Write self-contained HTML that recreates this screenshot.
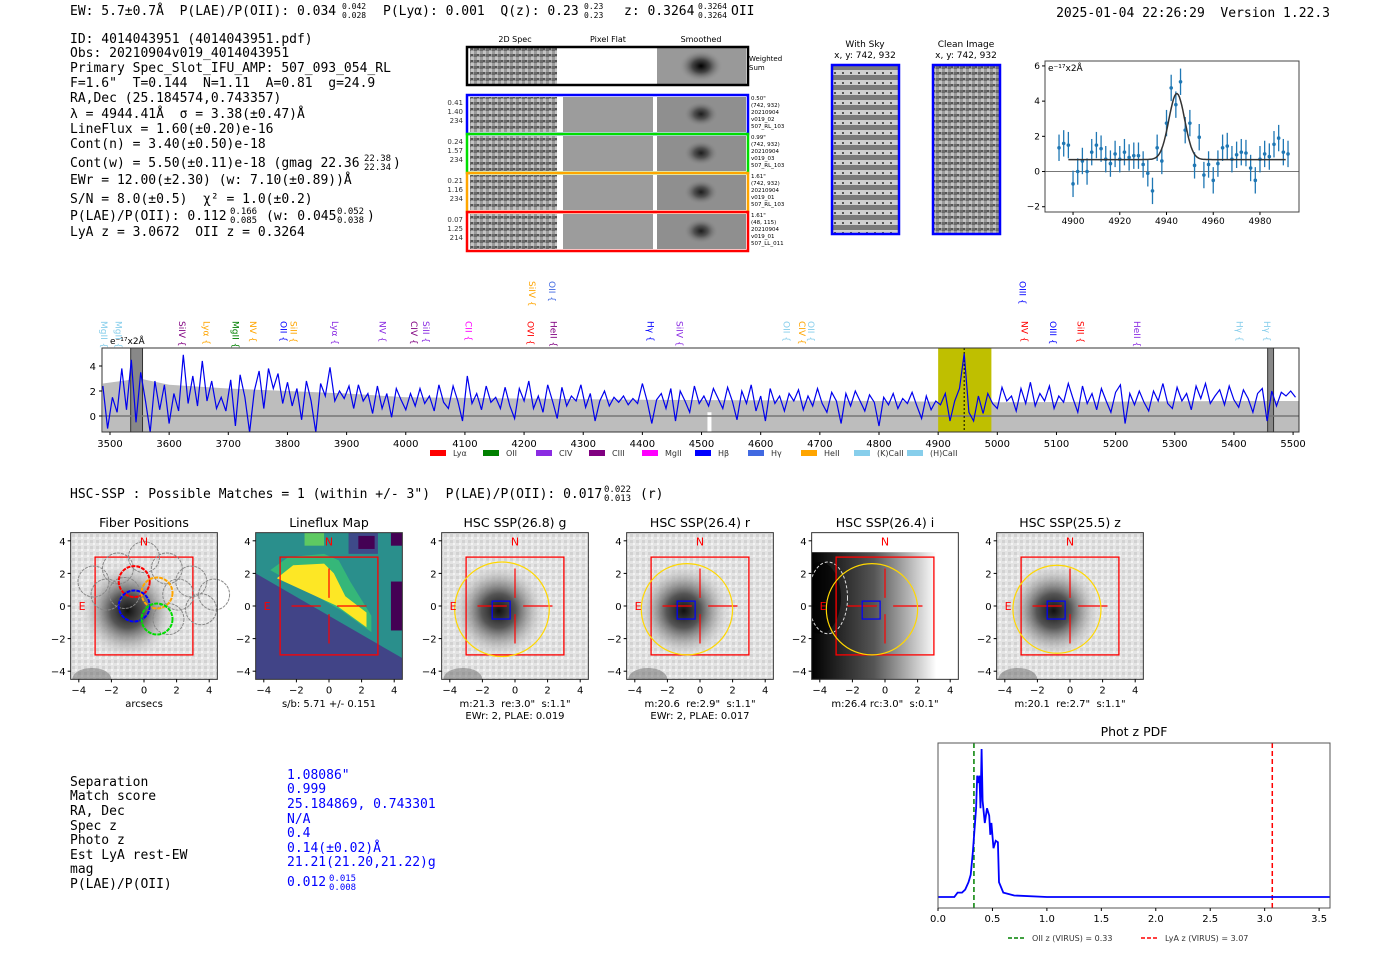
<!DOCTYPE html>
<html><head><meta charset="utf-8"><style>
html,body{margin:0;padding:0;background:#fff;}
svg{display:block;}
text{white-space:pre;}
.mono{font-family:"DejaVu Sans Mono","Liberation Mono",monospace;font-size:13px;fill:#000;}
.sans{font-family:"DejaVu Sans","Liberation Sans",sans-serif;}
</style></head><body>
<svg id="root" width="1400" height="953" viewBox="0 0 1400 953" xmlns="http://www.w3.org/2000/svg" xml:space="preserve">
<defs>
<radialGradient id="blob" cx="50%" cy="50%" r="50%"><stop offset="0" stop-color="#111"/><stop offset="0.35" stop-color="#555"/><stop offset="0.75" stop-color="#bbb" stop-opacity="0.6"/><stop offset="1" stop-color="#ddd" stop-opacity="0"/></radialGradient>
<radialGradient id="smooth" cx="50%" cy="50%" r="50%"><stop offset="0" stop-color="#000"/><stop offset="0.4" stop-color="#444"/><stop offset="1" stop-color="#999" stop-opacity="0"/></radialGradient>
<linearGradient id="igrad" x1="0" x2="1" y1="0" y2="0"><stop offset="0" stop-color="#000"/><stop offset="0.5" stop-color="#555"/><stop offset="1" stop-color="#fff"/></linearGradient>
<pattern id="noise" width="6" height="6" patternUnits="userSpaceOnUse"><rect width="6" height="6" fill="#9a9a9a"/><rect width="3" height="3" fill="#6a6a6a"/><rect x="3" y="3" width="3" height="3" fill="#c4c4c4"/><rect x="3" y="0" width="2" height="2" fill="#555"/></pattern>
<pattern id="stripes" width="8" height="10" patternUnits="userSpaceOnUse"><rect width="8" height="10" fill="#d0d0d0"/><rect y="5" width="8" height="5" fill="#7a7a7a"/><rect x="2" y="2" width="2" height="2" fill="#555"/></pattern>
<pattern id="lnoise" width="6" height="6" patternUnits="userSpaceOnUse"><rect width="6" height="6" fill="#e4e4e4"/><rect width="3" height="3" fill="#d2d2d2"/><rect x="3" y="3" width="2" height="2" fill="#f4f4f4"/></pattern>
</defs>

<!-- header -->
<text class="mono" x="70" y="15">EW: 5.7±0.7Å  P(LAE)/P(OII): 0.034</text>
<text class="mono" x="342" y="9" style="font-size:8px">0.042</text>
<text class="mono" x="342" y="18" style="font-size:8px">0.028</text>
<text class="mono" x="383" y="15">P(Lyα): 0.001  Q(z): 0.23</text>
<text class="mono" x="584" y="9" style="font-size:8px">0.23</text>
<text class="mono" x="584" y="18" style="font-size:8px">0.23</text>
<text class="mono" x="624" y="15">z: 0.3264</text>
<text class="mono" x="698" y="9" style="font-size:8px">0.3264</text>
<text class="mono" x="698" y="18" style="font-size:8px">0.3264</text>
<text class="mono" x="731" y="15">OII</text>
<text class="mono" x="1330" y="17" text-anchor="end">2025-01-04 22:26:29  Version 1.22.3</text>

<!-- info block -->
<g>
<text class="mono" x="70" y="43">ID: 4014043951 (4014043951.pdf)</text>
<text class="mono" x="70" y="57">Obs: 20210904v019_4014043951</text>
<text class="mono" x="70" y="72">Primary Spec_Slot_IFU_AMP: 507_093_054_RL</text>
<text class="mono" x="70" y="87">F=1.6"  T=0.144  N=1.11  A=0.81  g=24.9</text>
<text class="mono" x="70" y="102">RA,Dec (25.184574,0.743357)</text>
<text class="mono" x="70" y="118">λ = 4944.41Å  σ = 3.38(±0.47)Å</text>
<text class="mono" x="70" y="133">LineFlux = 1.60(±0.20)e-16</text>
<text class="mono" x="70" y="148">Cont(n) = 3.40(±0.50)e-18</text>
<text class="mono" x="70" y="167">Cont(w) = 5.50(±0.11)e-18 (gmag 22.36</text>
<text class="mono" x="364" y="161" style="font-size:9px">22.38</text><text class="mono" x="364" y="170" style="font-size:9px">22.34</text>
<text class="mono" x="393" y="167">)</text>
<text class="mono" x="70" y="184">EWr = 12.00(±2.30) (w: 7.10(±0.89))Å</text>
<text class="mono" x="70" y="203">S/N = 8.0(±0.5)  χ² = 1.0(±0.2)</text>
<text class="mono" x="70" y="220">P(LAE)/P(OII): 0.112</text>
<text class="mono" x="230" y="214" style="font-size:9px">0.166</text><text class="mono" x="230" y="223" style="font-size:9px">0.085</text>
<text class="mono" x="266" y="220">(w: 0.045</text>
<text class="mono" x="337" y="214" style="font-size:9px">0.052</text><text class="mono" x="337" y="223" style="font-size:9px">0.038</text>
<text class="mono" x="367" y="220">)</text>
<text class="mono" x="70" y="236">LyA z = 3.0672  OII z = 0.3264</text>
</g>

<!-- 2D spec cutouts -->
<g class="sans" font-size="7">
<text x="515" y="42" text-anchor="middle" font-size="8">2D Spec</text>
<text x="608" y="42" text-anchor="middle" font-size="8">Pixel Flat</text>
<text x="701" y="42" text-anchor="middle" font-size="8">Smoothed</text>
<rect x="470" y="48" width="87" height="36" fill="url(#noise)"/>
<rect x="657" y="48" width="89" height="36" fill="#999"/><ellipse cx="701" cy="66" rx="22" ry="16" fill="url(#smooth)"/>
<rect x="467" y="47" width="281" height="38" fill="none" stroke="#000" stroke-width="2.5"/>
<text x="749" y="61" font-size="7">Weighted</text><text x="749" y="70" font-size="7">Sum</text>
<g id="cutrows"></g>
</g>

<!-- sky images -->
<g>
<text class="sans" x="865" y="47" text-anchor="middle" font-size="9">With Sky</text>
<text class="sans" x="865" y="58" text-anchor="middle" font-size="9">x, y: 742, 932</text>
<rect x="832" y="65" width="67" height="169" fill="url(#stripes)" stroke="#00f" stroke-width="2.5"/>
</g>
<g>
<text class="sans" x="966" y="47" text-anchor="middle" font-size="9">Clean Image</text>
<text class="sans" x="966" y="58" text-anchor="middle" font-size="9">x, y: 742, 932</text>
<rect x="933" y="65" width="67" height="169" fill="url(#noise)" stroke="#00f" stroke-width="2.5"/>
</g>

<g id="zoomplot"></g>
<g id="spec"></g>

<text class="mono" x="70" y="498">HSC-SSP : Possible Matches = 1 (within +/- 3")  P(LAE)/P(OII): 0.017</text>
<text class="mono" x="604" y="492" style="font-size:9px">0.022</text>
<text class="mono" x="604" y="501" style="font-size:9px">0.013</text>
<text class="mono" x="640" y="498">(r)</text>

<g id="panels"></g>

<!-- match table -->
<g>
<g class="mono"><text x="70" y="786">Separation</text><text x="70" y="800">Match score</text><text x="70" y="815">RA, Dec</text><text x="70" y="830">Spec z</text><text x="70" y="844">Photo z</text><text x="70" y="859">Est LyA rest-EW</text><text x="70" y="873">mag</text><text x="70" y="888">P(LAE)/P(OII)</text></g>
<g class="mono"><text x="287" y="779" style="fill:#00f">1.08086"</text><text x="287" y="793" style="fill:#00f">0.999</text><text x="287" y="808" style="fill:#00f">25.184869, 0.743301</text><text x="287" y="823" style="fill:#00f">N/A</text><text x="287" y="837" style="fill:#00f">0.4</text><text x="287" y="852" style="fill:#00f">0.14(±0.02)Å</text><text x="287" y="866" style="fill:#00f">21.21(21.20,21.22)g</text><text x="287" y="886" style="fill:#00f">0.012</text><text x="329" y="881" style="fill:#00f;font-size:9px">0.015</text><text x="329" y="890" style="fill:#00f;font-size:9px">0.008</text></g>
</g>

<g id="pdf"></g>
</svg>
<script>
// ---------- data ----------
const specStart = 3488, specStep = 8;
const specFlux = [2.4,-1,1.5,0.3,3.8,0.5,4.5,-0.5,3.5,1.2,-1.3,2.8,0.5,
2.5,-0.6,1.8,0.4,4.9,1.0,3.2,0.8,4.4,1.2,2.8,0.6,1.5,0.4,
2.9,-0.8,3.3,1.5,-1.3,2.0,3.6,0.6,3.8,2.2,3.4,1.0,2.7,
0.8,2.2,-0.3,2.8,1.2,-1.3,2.6,1.6,3.9,1.2,2.0,1.4,2.4,
0.6,2.5,1.2,1.8,0.2,2.4,0.6,1.8,-0.1,2.2,1.3,0.5,1.8,
0.8,2.2,1.0,1.6,0.4,2.5,1.1,0.6,2.4,1.2,-0.4,3.2,1.0,
1.8,0.5,2.4,1.1,1.5,0.6,2.3,0.8,-0.2,2.2,1.2,2.8,0.6,
1.6,0.3,2.5,1.2,-0.2,2.3,0.8,1.6,1.2,2.5,0.7,1.8,-0.4,
1.2,2.0,0.8,1.5,1.1,1.6,0.9,1.4,1.0,2.6,1.2,-0.6,1.3,
1.8,0.6,2.2,-0.4,2.0,1.2,0.3,2.4,1.0,1.6,0.8,2.2,1.4,
0.6,2.3,1.2,-0.3,2.0,1.0,2.5,0.4,1.6,-0.4,2.2,1.0,1.6,
0.4,1.8,1.2,2.1,0.5,1.6,0.8,2.2,1.0,0.3,1.9,1.2,-0.6,
1.8,0.8,2.0,1.2,0.4,1.7,1.1,-0.8,1.5,0.9,1.8,0.6,1.4,
1.0,1.9,0.8,-0.2,1.6,0.5,1.2,0.9,1.8,-0.4,1.2,2.2,5.0,
0.3,-0.4,1.6,0.2,1.8,1.0,0.6,2.3,1.2,1.6,0.4,2.2,1.0,
2.7,0.8,1.8,1.2,2.4,0.6,1.6,1.1,2.6,1.4,0.3,2.4,1.0,
1.8,0.5,2.2,1.2,0.3,1.9,2.5,-0.6,1.8,0.9,2.0,1.1,0.4,
2.0,1.2,2.6,1.0,0.6,2.3,1.2,1.8,0.5,2.4,1.4,2.6,1.0,
1.6,2.1,0.9,2.4,1.3,0.7,2.1,1.4,0.3,1.8,2.2,-0.4,2.0,
0.8,1.9,1.6,2.0,1.5];
const errWave = [3488,3550,3600,3700,3800,3900,4000,4200,4400,4600,4800,5000,5200,5400,5510];
const errLevel = [2.6,3.0,2.5,2.2,2.0,1.8,1.5,1.4,1.3,1.25,1.2,1.1,1.15,1.2,1.2];
const specXTicks = [3500,3600,3700,3800,3900,4000,4100,4200,4300,4400,4500,4600,4700,4800,4900,5000,5100,5200,5300,5400,5500];
const specYTicks = [0,2,4];
const lineWave = [3490,3514,3622,3663,3712,3742,3793,3810,3880,3961,4014,4034,4106,4211,4250,4213,4247,4414,4463,4644,4670,4685,5043,5046,5094,5141,5236,5409,5456];
const lineName = ["MgII","MgII","SiIV","Lyα","MgII","NV","OII","SiII","Lyα","NV","CIV","SiII","CII","OVI","HeII","SiIV","OII","Hγ","SiIV","OII","CIV","OII","OIII","NV","OIII","SiII","HeII","Hγ","Hγ"];
const lineColor = ["#87ceeb","#87ceeb","#800080","#ffa500","#008000","#ffa500","#0000ff","#ffa500","#8a2be2","#8a2be2","#800080","#8a2be2","#ff00ff","#ff0000","#800080","#ffa500","#4169e1","#0000ff","#8a2be2","#87ceeb","#ffa500","#87ceeb","#0000ff","#ff0000","#0000ff","#ff0000","#8a2be2","#87ceeb","#87ceeb"];
const lineHigh = [0,0,0,0,0,0,0,0,0,0,0,0,0,0,0,1,1,0,0,0,0,0,1,0,0,0,0,0,0];
const legendNames = ["Lyα","OII","CIV","CIII","MgII","Hβ","Hγ","HeII","(K)CaII","(H)CaII"];
const legendColors = ["#ff0000","#008000","#8a2be2","#800080","#ff00ff","#0000ff","#4169e1","#ffa500","#87ceeb","#87ceeb"];

const fitWave = [4894,4896,4898,4900,4902,4904,4906,4908,4910,4912,4914,4916,4918,4920,4922,4924,4926,4928,4930,4932,4934,4936,4938,4940,4942,4944,4946,4948,4950,4952,4954,4956,4958,4960,4962,4964,4966,4968,4970,4972,4974,4976,4978,4980,4982,4984,4986,4988,4990,4992];
const fitFlux = [1.35,1.6,1.5,-0.7,0,0.6,0,1.1,1.5,1.3,0.7,0.45,1.0,0.7,1.1,0.8,0.9,0.9,0.4,-0.1,-1.1,1.35,0.6,2.75,4.75,3.8,5.1,2.35,2.75,0.35,1.95,-0.2,0.4,-0.5,0.45,1.35,1.45,0.7,0.95,1.1,1.05,0.2,-0.5,0.7,1.0,0.85,1.55,1.9,1.1,1.0];
const fitErr = 0.75;
const gaussCenter = 4944.4, gaussSigma = 3.38, gaussAmp = 3.75, gaussBase = 0.68;
const fitXTicks = [4900,4920,4940,4960,4980];
const fitYTicks = [-2,0,2,4,6];

const pdfZ = [0,0.15,0.18,0.22,0.25,0.28,0.3,0.32,0.34,0.35,0.36,0.37,0.38,0.39,0.4,0.41,0.43,0.45,0.47,0.48,0.49,0.51,0.53,0.55,0.56,0.6,0.7,1.0,3.6];
const pdfP = [0,0,0.03,0.03,0.05,0.1,0.15,0.3,0.5,0.6,0.82,0.77,0.82,0.6,1.0,0.65,0.5,0.6,0.55,0.42,0.5,0.33,0.38,0.37,0.1,0.03,0.01,0,0];
const pdfXTicks = [0,0.5,1.0,1.5,2.0,2.5,3.0,3.5];
const oiiZ = 0.33, lyaZ = 3.07;

const panelTitles = ["Fiber Positions","Lineflux Map","HSC SSP(26.8) g","HSC SSP(26.4) r","HSC SSP(26.4) i","HSC SSP(25.5) z"];
const panelCaps1 = ["arcsecs","s/b: 5.71 +/- 0.151","m:21.3  re:3.0\"  s:1.1\"","m:20.6  re:2.9\"  s:1.1\"","m:26.4 rc:3.0\"  s:0.1\"","m:20.1  re:2.7\"  s:1.1\""];
const panelCaps2 = ["","","EWr: 2, PLAE: 0.019","EWr: 2, PLAE: 0.017","",""];
const panelTicks = [-4,-2,0,2,4];
const ellipseR = [0,0,2.9,2.8,2.8,2.7];

const cutVals = [["0.41","1.40","234"],["0.24","1.57","234"],["0.21","1.16","234"],["0.07","1.25","214"]];
const cutColors = ["#0000ff","#00dd00","#ffa500","#ff0000"];
const cutNotes = [["0.50\"","(742, 932)","20210904","v019_02","507_RL_103"],["0.99\"","(742, 932)","20210904","v019_03","507_RL_103"],["1.61\"","(742, 932)","20210904","v019_01","507_RL_103"],["1.61\"","(48, 115)","20210904","v019_01","507_LL_011"]];

// ---------- helpers ----------
const NS = "http://www.w3.org/2000/svg";
function mk(tag, attrs, parent){const e=document.createElementNS(NS,tag);for(const k in attrs)e.setAttribute(k,attrs[k]);if(parent)parent.appendChild(e);return e;}
function txt(parent,x,y,s,size,anchor,fill){const t=mk('text',{x:x,y:y,'font-size':size,'text-anchor':anchor||'start',fill:fill||'#000','font-family':'DejaVu Sans, Liberation Sans, sans-serif'},parent);t.textContent=s;return t;}

// ---------- cutout rows ----------
(function(){
  const g=document.getElementById('cutrows');
  for(let i=0;i<4;i++){
    const y=95+i*39;
    mk('rect',{x:470,y:y+2,width:87,height:35,fill:'url(#noise)'},g);
    mk('rect',{x:563,y:y+2,width:90,height:35,fill:'#9c9c9c'},g);
    mk('rect',{x:657,y:y+2,width:89,height:35,fill:'#8f8f8f'},g);
    mk('ellipse',{cx:701,cy:y+19,rx:18,ry:13,fill:'url(#smooth)',opacity:0.8},g);
    const r=mk('rect',{x:467,y:y,width:281,height:39,fill:'none',stroke:cutColors[i],'stroke-width':2.5},g);
    
    
    cutVals[i].forEach((s,j)=>txt(g,463,y+10+j*9,s,7,'end','#333'));
    cutNotes[i].forEach((s,j)=>txt(g,751,y+5+j*7,s,5.5,'start','#000'));
  }
})();

// ---------- zoom line fit plot ----------
(function(){
  const g=document.getElementById('zoomplot');
  const L=1045,R=1299,T=61,B=212, x0=4888, x1=4996.7, y0=-2.3, y1=6.28;
  const X=v=>L+(v-x0)/(x1-x0)*(R-L), Y=v=>B-(v-y0)/(y1-y0)*(B-T);
  mk('line',{x1:L,x2:R,y1:Y(0),y2:Y(0),stroke:'#777','stroke-width':1},g);
  fitWave.forEach((w,i)=>{
    const e=mk('line',{x1:X(w),x2:X(w),y1:Y(fitFlux[i]-fitErr),y2:Y(fitFlux[i]+fitErr),stroke:'#1f77b4','stroke-width':1.3},g);
    
    
    const c=mk('circle',{cx:X(w),cy:Y(fitFlux[i]),r:1.8,fill:'#1f77b4'},g);
    
    
  });
  let d='';
  for(let w=4898;w<=4991;w+=0.5){const f=gaussBase+gaussAmp*Math.exp(-0.5*Math.pow((w-gaussCenter)/gaussSigma,2));d+=(d?'L':'M')+X(w).toFixed(1)+','+Y(f).toFixed(1);}
  const p=mk('path',{d:d,fill:'none',stroke:'#333','stroke-width':1.5},g);
  
  
  mk('rect',{x:L,y:T,width:R-L,height:B-T,fill:'none',stroke:'#444','stroke-width':1},g);
  fitXTicks.forEach(t=>{mk('line',{x1:X(t),x2:X(t),y1:B,y2:B+3,stroke:'#000'},g);txt(g,X(t),B+12,t,9,'middle');});
  fitYTicks.forEach(t=>{mk('line',{x1:L-3,x2:L,y1:Y(t),y2:Y(t),stroke:'#000'},g);txt(g,L-5,Y(t)+3,t<0?'−'+(-t):t,9,'end');});
  txt(g,L+3,T+10,'e⁻¹⁷x2Å',9,'start');
})();

// ---------- full spectrum ----------
(function(){
  const g=document.getElementById('spec');
  const L=102,R=1299,T=348,B=432, x0=3486.5, x1=5510, y0=-1.28, y1=5.44;
  const X=v=>L+(v-x0)/(x1-x0)*(R-L), Y=v=>B-(v-y0)/(y1-y0)*(B-T);
  let d='M'+X(errWave[0])+','+B;
  errWave.forEach((w,i)=>{d+='L'+X(w).toFixed(1)+','+Y(errLevel[i]).toFixed(1);});
  d+='L'+X(errWave[errWave.length-1])+','+B+'Z';
  const band=mk('path',{d:d,fill:'#bdbdbd'},g);
  
  
  mk('rect',{x:X(4510),y:Y(0.3),width:4,height:B-Y(0.3),fill:'#fff'},g);
  const hw=mk('rect',{x:X(4900),y:T,width:X(4990)-X(4900),height:B-T,fill:'#bfbf00'},g);
  
  
  mk('rect',{x:X(3535),y:T,width:X(3555)-X(3535),height:B-T,fill:'#888',stroke:'#333','stroke-width':1},g);
  mk('rect',{x:X(5457),y:T,width:X(5467)-X(5457),height:B-T,fill:'#888',stroke:'#333','stroke-width':1},g);
  mk('line',{x1:L,x2:R,y1:Y(0),y2:Y(0),stroke:'#777','stroke-width':1.5},g);
  mk('line',{x1:X(4944),x2:X(4944),y1:T,y2:B,stroke:'#000','stroke-dasharray':'2,2','stroke-width':1},g);
  let s='';
  specFlux.forEach((f,i)=>{const w=specStart+i*specStep;s+=(s?'L':'M')+X(w).toFixed(1)+','+Y(f).toFixed(1);});
  const ln=mk('path',{d:s,fill:'none',stroke:'#0000ee','stroke-width':1.2},g);
  
  
  mk('rect',{x:L,y:T,width:R-L,height:B-T,fill:'none',stroke:'#333','stroke-width':1},g);
  specXTicks.forEach(t=>{mk('line',{x1:X(t),x2:X(t),y1:B,y2:B+3,stroke:'#000'},g);txt(g,X(t),B+15,t,10,'middle');});
  specYTicks.forEach(t=>{mk('line',{x1:L-3,x2:L,y1:Y(t),y2:Y(t),stroke:'#000'},g);txt(g,L-6,Y(t)+4,t,10,'end');});
  txt(g,L+8,T-4,'e⁻¹⁷x2Å',9,'start');
  lineWave.forEach((w,i)=>{
    const x=X(w), y=lineHigh[i]?281:321;
    const t=mk('text',{x:0,y:0,transform:'translate('+(x-3).toFixed(1)+','+y+') rotate(90)','font-size':9,fill:lineColor[i],'font-family':'DejaVu Sans, Liberation Sans, sans-serif'},g);
    t.textContent=lineName[i]+' {';
    
    
  });
  legendNames.forEach((n,i)=>{
    const lx=430+i*53;
    const r=mk('rect',{x:lx,y:450,width:16,height:6,fill:legendColors[i]},g);
    
    
    txt(g,lx+23,456,n,8,'start','#333');
  });
})();

// ---------- imaging panels ----------
(function(){
  const root=document.getElementById('panels');
  const centers=[144,329,515,700,885,1070], U=16.3, cy=606;
  panelTitles.forEach((title,k)=>{
    const g=mk('g',{},root);
    
    
    const cx=centers[k];
    const X=v=>cx+v*U, Y=v=>cy-v*U;
    const L=X(-4.5),T=Y(4.5),W=9*U;
    const clip=mk('clipPath',{id:'c'+k},g); mk('rect',{x:L,y:T,width:W,height:W},clip);
    const inner=mk('g',{'clip-path':'url(#c'+k+')'},g);
    if(k===1){
      mk('rect',{x:L,y:T,width:W,height:W,fill:'#2a8f8c'},inner);
      mk('rect',{x:X(-1.5),y:Y(4.5),width:U*1.2,height:U*0.8,fill:'#5ec962'},inner);
      mk('rect',{x:X(1.2),y:Y(4.5),width:U*1.8,height:U*1.3,fill:'#3e4a89'},inner);
      mk('rect',{x:X(1.8),y:Y(4.3),width:U*1.0,height:U*0.8,fill:'#440154'},inner);
      mk('rect',{x:X(3.8),y:Y(4.5),width:U*0.7,height:U*0.8,fill:'#440154'},inner);
      mk('rect',{x:X(3.8),y:Y(1.5),width:U*0.7,height:U*3,fill:'#440154'},inner);
      mk('polygon',{points:[X(-3.6),Y(2.2),X(-2.5),Y(3.0),X(-0.3),Y(3.2),X(0.6),Y(2.8),X(1.3),Y(1.5),X(2.6),Y(-0.6),X(2.6),Y(-1.6),X(0.8),Y(-0.3)].join(','),fill:'#35b779'},inner);
      mk('polygon',{points:[X(-3.2),Y(1.7),X(-2.2),Y(2.5),X(-0.3),Y(2.6),X(0.3),Y(2.0),X(1.0),Y(0.6),X(2.3),Y(-0.4),X(2.3),Y(-1.3),X(0.5),Y(0)].join(','),fill:'#fde725'},inner);
      mk('polygon',{points:[X(-4.5),Y(2.0),X(4.5),Y(-3.2),X(4.5),Y(-4.5),X(-4.5),Y(-4.5)].join(','),fill:'#414487'},inner);
    } else if(k===4){
      mk('rect',{x:L,y:T,width:W,height:W,fill:'#fff'},inner);
      mk('rect',{x:L,y:Y(3.3),width:W*0.85,height:U*7.8,fill:'url(#igrad)'},inner);
      mk('ellipse',{cx:X(-4),cy:Y(0.5),rx:U*1.3,ry:U*2.2,fill:'#000',opacity:0.6},inner);
      mk('ellipse',{cx:X(-3.5),cy:Y(0.5),rx:U*1.2,ry:U*2.2,fill:'none',stroke:'#ddd','stroke-dasharray':'3,2'},inner);
    } else {
      mk('rect',{x:L,y:T,width:W,height:W,fill:'url(#lnoise)'},inner);
      mk('ellipse',{cx:X(-1),cy:Y(-0.3),rx:U*3,ry:U*3,fill:'url(#blob)'},inner);
      mk('ellipse',{cx:X(-3.2),cy:Y(-4.5),rx:U*1.2,ry:U*0.7,fill:'#666',opacity:0.5},inner);
    }
    mk('rect',{x:X(-3),y:Y(3),width:6*U,height:6*U,fill:'none',stroke:'#ff0000','stroke-width':1.3},g);
    if(k>0){
      [[X(0),Y(2.3),X(0),Y(0.5)],[X(0),Y(-0.5),X(0),Y(-2.3)],[X(-2.3),Y(0),X(-0.5),Y(0)],[X(0.5),Y(0),X(2.3),Y(0)]].forEach(a=>mk('line',{x1:a[0],y1:a[1],x2:a[2],y2:a[3],stroke:'#ff0000','stroke-width':1.2},g));
    }
    if(ellipseR[k]>0){
      const e=mk('circle',{cx:X(-0.8),cy:Y(-0.2),r:ellipseR[k]*U,fill:'none',stroke:'#ffd700','stroke-width':1.2},g);
      
      
      mk('rect',{x:X(-1.4),y:Y(0.3),width:U*1.1,height:U*1.1,fill:'none',stroke:'#0000ff','stroke-width':1.2},g);
    }
    if(k===0){
      const fib=[[-3.1,1.5],[-1.6,2.3],[0,3.0],[1.4,2.3],[2.9,1.5],[4.3,0.7],[-2.3,0.7],[2.1,0.7],[3.5,-0.2],[1.5,-0.8],[-1.2,0.8]];
      fib.forEach(p=>mk('circle',{cx:X(p[0]),cy:Y(p[1]),r:U*0.95,fill:'none',stroke:'#888','stroke-width':1,'stroke-dasharray':'3,1'},g));
      const col=[['#ff0000',-0.6,1.5],['#ffa500',0.8,0.8],['#0000ff',-0.6,0],['#00dd00',0.8,-0.8]];
      col.forEach(c=>mk('circle',{cx:X(c[1]),cy:Y(c[2]),r:U*0.95,fill:'none',stroke:c[0],'stroke-width':2,'stroke-dasharray':'4,1'},g));
    }
    txt(g,X(0),Y(3.9)+3,'N',11,'middle','#ff0000');
    txt(g,X(-3.8),Y(0)+4,'E',11,'middle','#ff0000');
    mk('rect',{x:L,y:T,width:W,height:W,fill:'none',stroke:'#333','stroke-width':1},g);
    panelTicks.forEach(t=>{
      mk('line',{x1:X(t),x2:X(t),y1:T+W,y2:T+W+3,stroke:'#000'},g);
      txt(g,X(t),T+W+14,t<0?'−'+(-t):t,10,'middle');
      mk('line',{x1:L-3,x2:L,y1:Y(t),y2:Y(t),stroke:'#000'},g);
      txt(g,L-5,Y(t)+4,t<0?'−'+(-t):t,10,'end');
    });
    const tt=txt(g,X(0),527,title,12.5,'middle');
    
    
    txt(g,X(0),707,panelCaps1[k],10,'middle');
    if(panelCaps2[k])txt(g,X(0),719,panelCaps2[k],10,'middle');
  });
})();

// ---------- phot z PDF ----------
(function(){
  const g=document.getElementById('pdf');
  const L=938,R=1330,T=743,B=908, x0=0, x1=3.6, base=897, peakH=148;
  const X=v=>L+(v-x0)/(x1-x0)*(R-L), Y=v=>base-v*peakH;
  txt(g,(L+R)/2,736,'Phot z PDF',12.5,'middle');
  const o=mk('line',{x1:X(oiiZ),x2:X(oiiZ),y1:T,y2:B,stroke:'#008000','stroke-width':1.5,'stroke-dasharray':'5,3'},g);
  
  
  const l=mk('line',{x1:X(lyaZ),x2:X(lyaZ),y1:T,y2:B,stroke:'#ff0000','stroke-width':1.5,'stroke-dasharray':'5,3'},g);
  
  
  let d='';
  pdfZ.forEach((z,i)=>{d+=(d?'L':'M')+X(z).toFixed(1)+','+Y(pdfP[i]).toFixed(1);});
  const p=mk('path',{d:d,fill:'none',stroke:'#0000ff','stroke-width':1.8},g);
  
  
  mk('rect',{x:L,y:T,width:R-L,height:B-T,fill:'none',stroke:'#555','stroke-width':1},g);
  pdfXTicks.forEach(t=>{mk('line',{x1:X(t),x2:X(t),y1:B,y2:B+3,stroke:'#000'},g);txt(g,X(t),B+14,t.toFixed(1),10,'middle');});
  mk('line',{x1:1008,x2:1025,y1:938,y2:938,stroke:'#008000','stroke-width':1.5,'stroke-dasharray':'4,2'},g);
  txt(g,1032,941,'OII z (VIRUS) = 0.33',8,'start','#333');
  mk('line',{x1:1141,x2:1158,y1:938,y2:938,stroke:'#ff0000','stroke-width':1.5,'stroke-dasharray':'4,2'},g);
  txt(g,1165,941,'LyA z (VIRUS) = 3.07',8,'start','#333');
})();
</script>
</body></html>
